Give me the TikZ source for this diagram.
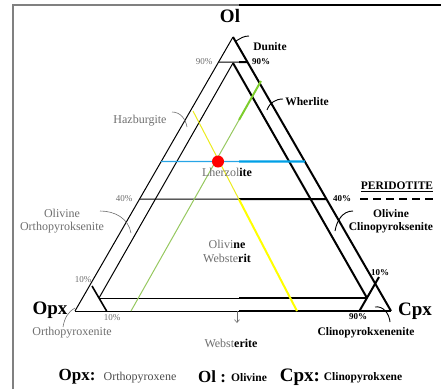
\documentclass[tikz,border=0pt]{standalone}
\usepackage{fontspec}
\setmainfont{Liberation Serif}
\usetikzlibrary{arrows.meta}
\definecolor{txtgray}{RGB}{110,110,110}
\definecolor{blueL}{RGB}{40,165,230}
\definecolor{blueR}{RGB}{0,160,230}
\definecolor{yellowL}{RGB}{235,235,30}
\definecolor{yellowR}{RGB}{255,255,0}
\definecolor{greenL}{RGB}{150,200,95}
\definecolor{greenR}{RGB}{125,205,45}
\tikzset{
  thinL/.style={line width=1pt, black},
  thickR/.style={line width=2pt, black},
  lbl/.style={inner sep=0pt, align=center, text=txtgray, font=\fontsize{12}{13.5}\selectfont},
  lblR/.style={inner sep=0pt, align=center, text=black, font=\bfseries\fontsize{11.5}{13.5}\selectfont},
  pct/.style={inner sep=0pt, text=txtgray, font=\fontsize{9}{10}\selectfont},
  pctR/.style={inner sep=0pt, text=black, font=\bfseries\fontsize{9}{10}\selectfont},
  apex/.style={inner sep=0pt, font=\bfseries\fontsize{19}{20}\selectfont},
  leader/.style={line width=0.6pt, txtgray},
  leaderR/.style={line width=0.9pt, black},
}
\begin{document}
\begin{tikzpicture}[x=1pt, y=-1pt]
	\useasboundingbox (0,0) rectangle (441,389);
	% frame
	\coordinate (fTL) at (13,5);
	\coordinate (fBL) at (13,389);
	\coordinate (fTM) at (239,5);
	\coordinate (fTR) at (441,5);
	\draw[line width=1.3pt, gray] (fBL) -- (fTL) -- (fTM);
	\draw[line width=2pt] (fTM) -- (fTR);
	
	% corners and the split line
	\coordinate (ol) at (233,37);
	\coordinate (opx) at (75,311);
	\coordinate (cpx) at (391,311);
	\coordinate (st) at (239,0);
	\coordinate (sb) at (239,389);
	
	% outer triangle
	\coordinate (bm) at (239,311);
	\draw[thinL] (opx) -- (ol);
	\draw[thickR] (ol) -- (cpx);
	\draw[thinL] (opx) -- (bm);
	\draw[thickR] (bm) -- (cpx);
	
	% inner triangle
	\coordinate (iol) at (233,63);
	\coordinate (iopx) at (99,298);
	\coordinate (icpx) at (367,298);
	\coordinate (im) at (239,298);
	\draw[thinL] (iopx) -- (iol);
	\draw[thickR] (iol) -- (icpx);
	\draw[thinL] (iopx) -- (im);
	\draw[thickR] (im) -- (icpx);
	
	% 90% and 40% olivine lines
	\coordinate (h90a) at (intersection of ol--opx and 0,62--441,62);
	\coordinate (h90b) at (intersection of ol--cpx and 0,62--441,62);
	\coordinate (h90m) at (239,62);
	\draw[thinL] (h90a) -- (h90m);
	\draw[thickR] (h90m) -- (h90b);
	\coordinate (h40a) at (intersection of ol--opx and 0,199--441,199);
	\coordinate (h40b) at (intersection of ol--cpx and 0,199--441,199);
	\coordinate (h40m) at (239,199);
	\draw[thinL] (h40a) -- (h40m);
	\draw[thickR] (h40m) -- (h40b);
	
	% 90% pyroxene corners
	\coordinate (o90a) at (92,286);
	\coordinate (o90b) at (106.6,311);
	\coordinate (c90a) at (379,277);
	\coordinate (c90b) at (359.4,311);
	\draw[line width=1.6pt] (o90a) -- (o90b);
	\draw[thickR] (c90a) -- (c90b);
	
	% sample lines
	\coordinate (gA) at (261,81);
	\coordinate (gB) at (131,311);
	\coordinate (gM) at (intersection of gA--gB and st--sb);
	\draw[line width=2pt, greenR] (gA) -- (gM);
	\draw[line width=1pt, greenL] (gM) -- (gB);
	\coordinate (yA) at (193,111);
	\coordinate (yB) at (297,311);
	\coordinate (yM) at (intersection of yA--yB and st--sb);
	\draw[line width=1pt, yellowL] (yA) -- (yM);
	\draw[line width=2pt, yellowR] (yM) -- (yB);
	\coordinate (bA) at (intersection of ol--opx and 0,161.5--441,161.5);
	\coordinate (bB) at (intersection of ol--cpx and 0,161.5--441,161.5);
	\coordinate (bM) at (239,161.5);
	\draw[line width=1.1pt, blueL] (bA) -- (bM);
	\draw[line width=2.2pt, blueR] (bM) -- (bB);
	\node[circle, fill=red, inner sep=0pt, minimum size=12pt] (lhzdot) at (218,161.5) {};
	
	% corner names
	\node[apex] (olname) at (230,16) {Ol};
	\node[apex] (opxname) at (50,310) {Opx};
	\node[apex] (cpxname) at (415,311) {Cpx};
	
	% percentages
	\node[pct] (p90l) at (204,62) {90\%};
	\node[pctR] (p90r) at (261,62) {90\%};
	\node[pct] (p40l) at (124,199) {40\%};
	\node[pctR] (p40r) at (342,199) {40\%};
	\node[pct] (p10l) at (83,280) {10\%};
	\node[pct] (p10b) at (112,318) {10\%};
	\node[pctR] (p10r) at (380,273) {10\%};
	\node[pctR] (p90b) at (358,317) {90\%};
	
	% rock names
	\node[lblR] (dun) at (270,47) {Dunite};
	\node[lblR] (wher) at (307,102) {Wherlite};
	\node[lbl] (harz) at (140,121) {Hazburgite};
	\node[lbl] (lherz) at (227,172) {Lherzol\textcolor{black}{\bfseries ite}};
	\node[lblR] (peri) at (397,187) {\underline{PERIDOTITE}};
	\coordinate (pdA) at (360,199);
	\coordinate (pdB) at (433,199);
	\draw[line width=2.2pt, dash pattern=on 8pt off 5pt] (pdA) -- (pdB);
	\node[lblR] (olcpx) at (391,221) {Olivine\\Clinopyroksenite};
	\node[lbl] (olopx) at (62,221) {Olivine\\Orthopyroksenite};
	\node[lbl] (olweb) at (227,251.5) {Olivi\textcolor{black}{\bfseries ne}\\Webste\textcolor{black}{\bfseries rit}};
	\node[lbl] (orthox) at (72,333) {Orthopyroxenite};
	\node[lblR] (clinox) at (366,333) {Clinopyrokxenenite};
	\node[lbl] (web) at (231,343) {Webst\textcolor{black}{\bfseries erite}};
	
	% leaders
	\coordinate (dunA) at (236,41);
	\coordinate (dunB) at (249,36);
	\draw[leaderR] (dunA) to[out=30, in=180] (dunB);
	\coordinate (whA) at (267,110);
	\coordinate (whB) at (283,99);
	\draw[leaderR] (whA) to[out=70, in=180] (whB);
	\coordinate (hzA) at (172,112);
	\coordinate (hzB) at (187,127);
	\draw[leader] (hzA) to[out=0, in=100] (hzB);
	\coordinate (ooA) at (100,211);
	\coordinate (ooB) at (131,233);
	\draw[leader] (ooA) to[out=0, in=100] (ooB);
	\coordinate (ocA) at (353,211);
	\coordinate (ocB) at (335,231);
	\draw[leaderR] (ocA) to[out=180, in=80] (ocB);
	\coordinate (oxA) at (75,308);
	\coordinate (oxB) at (63,327);
	\draw[leader] (oxA) to[out=210, in=80] (oxB);
	\coordinate (cxA) at (375,307);
	\coordinate (cxB) at (390,322);
	\draw[leaderR] (cxA) to[out=10, in=95] (cxB);
	\coordinate (dwA) at (237,311);
	\coordinate (dwB) at (237,323);
	\draw[leader, -{Straight Barb[length=3pt, width=5pt]}] (dwA) -- (dwB);
	
	% legend
	\node[inner sep=0pt, font=\bfseries\fontsize{17}{18}\selectfont] (lgopx) at (77,377) {Opx:};
	\node[lbl, text=black!70] (lgopxt) at (140,378) {Orthopyroxene};
	\node[inner sep=0pt, font=\bfseries\fontsize{17}{18}\selectfont] (lgol) at (212,377) {Ol :};
	\node[lblR] (lgolt) at (249,378) {Olivine};
	\node[inner sep=0pt, font=\bfseries\fontsize{19}{20}\selectfont] (lgcpx) at (300,377) {Cpx:};
	\node[lblR] (lgcpxt) at (363,378) {Clinopyrokxene};
\end{tikzpicture}
\end{document}
